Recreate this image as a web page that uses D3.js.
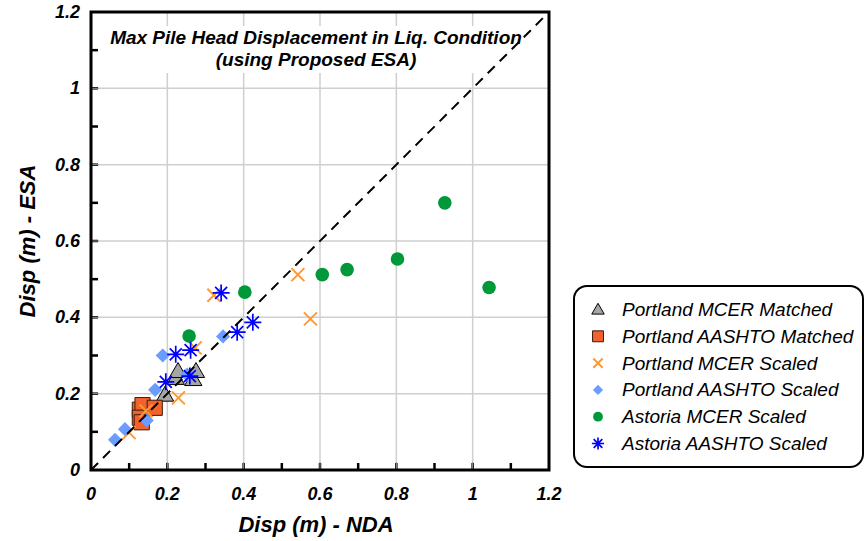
<!DOCTYPE html>
<html>
<head>
<meta charset="utf-8">
<script src="https://cdn.jsdelivr.net/npm/d3@7"></script>
<style>
  html, body { margin: 0; padding: 0; background: #fff; }
  svg { display: block; font-family: "Liberation Sans", Arial, sans-serif; }
</style>
</head>
<body>
<svg id="chart" width="868" height="541"></svg>
<script>
// Max pile head displacement: NDA (x) vs ESA (y), metres
const ticks = [0, 0.2, 0.4, 0.6, 0.8, 1, 1.2];
const tickLabels = ["0", "0.2", "0.4", "0.6", "0.8", "1", "1.2"];

const portlandMcerMatched = [
  [0.194, 0.196], [0.222, 0.240], [0.228, 0.258], [0.268, 0.237], [0.275, 0.258]
];
const portlandAashtoMatched = [
  [0.128, 0.158], [0.135, 0.170], [0.167, 0.163], [0.128, 0.137], [0.133, 0.125]
];
const portlandMcerScaled = [
  [0.100, 0.098], [0.144, 0.155], [0.229, 0.189], [0.273, 0.320],
  [0.322, 0.458], [0.542, 0.512], [0.575, 0.396]
];
const portlandAashtoScaled = [
  [0.063, 0.079], [0.089, 0.107], [0.146, 0.130], [0.168, 0.210],
  [0.188, 0.300], [0.252, 0.250], [0.346, 0.350]
];
const astoriaMcerScaled = [
  [0.257, 0.351], [0.403, 0.466], [0.606, 0.512], [0.671, 0.525],
  [0.803, 0.553], [0.927, 0.700], [1.043, 0.478]
];
const astoriaAashtoScaled = [
  [0.196, 0.231], [0.222, 0.303], [0.259, 0.246], [0.261, 0.314],
  [0.341, 0.464], [0.383, 0.361], [0.424, 0.387]
];

const seriesNames = [
  "Portland MCER Matched", "Portland AASHTO Matched", "Portland MCER Scaled",
  "Portland AASHTO Scaled", "Astoria MCER Scaled", "Astoria AASHTO Scaled"
];

const svg = d3.select("#chart");
const L = 91, R = 549, T = 12, B = 470;
const x = d3.scaleLinear().domain([0, 1.2]).range([L, R]);
const y = d3.scaleLinear().domain([0, 1.2]).range([B, T]);

// gridlines
const grid = svg.append("g");
grid.selectAll(".gx").data(ticks.slice(1, -1)).join("line")
  .attr("x1", d => x(d)).attr("x2", d => x(d)).attr("y1", T).attr("y2", B)
  .attr("stroke", "#cfcfcf").attr("stroke-width", 1.5);
grid.selectAll(".gy").data(ticks.slice(1, -1)).join("line")
  .attr("y1", d => y(d)).attr("y2", d => y(d)).attr("x1", L).attr("x2", R)
  .attr("stroke", "#cfcfcf").attr("stroke-width", 1.5);

// inward ticks every 0.1
const minor = d3.range(1, 12).map(i => i / 10);
const tickG = svg.append("g");
tickG.selectAll(".tx").data(minor).join("line")
  .attr("x1", d => x(d)).attr("x2", d => x(d)).attr("y1", B).attr("y2", B - 7)
  .attr("stroke", "#000").attr("stroke-width", 2.5);
tickG.selectAll(".ty").data(minor).join("line")
  .attr("y1", d => y(d)).attr("y2", d => y(d)).attr("x1", L).attr("x2", L + 7)
  .attr("stroke", "#000").attr("stroke-width", 2.5);
tickG.selectAll(".txg").data(ticks.slice(1, -1)).join("line")
  .attr("x1", d => x(d)).attr("x2", d => x(d)).attr("y1", B).attr("y2", B - 8)
  .attr("stroke", "#999").attr("stroke-width", 1);
tickG.selectAll(".tyg").data(ticks.slice(1, -1)).join("line")
  .attr("y1", d => y(d)).attr("y2", d => y(d)).attr("x1", L).attr("x2", L + 8)
  .attr("stroke", "#999").attr("stroke-width", 1);

// title box
svg.append("rect").attr("x", 104).attr("y", 26).attr("width", 424).attr("height", 47)
  .attr("fill", "#fff");
const title = svg.append("text").attr("text-anchor", "middle")
  .attr("font-weight", "bold").attr("font-style", "italic").attr("font-size", 19);
title.append("tspan").attr("x", 316).attr("y", 44).text("Max Pile Head Displacement in Liq. Condition");
title.append("tspan").attr("x", 316).attr("y", 66).text("(using Proposed ESA)");

// markers
const clip = svg.append("clipPath").attr("id", "plotclip");
clip.append("rect").attr("x", L).attr("y", T).attr("width", R - L).attr("height", B - T);
const plot = svg.append("g");

function starPath(r) {
  let p = "";
  for (let i = 0; i < 4; i++) {
    const a = i * Math.PI / 4;
    const dx = r * Math.cos(a), dy = r * Math.sin(a);
    p += `M${-dx},${-dy}L${dx},${dy}`;
  }
  return p;
}
function xPath(r) {
  return `M${-r},${-r}L${r},${r}M${-r},${r}L${r},${-r}`;
}

const styles = [
  { draw: (g, s) => g.append("path").attr("d", d3.symbol(d3.symbolTriangle, 130 * s * s)()).attr("transform", "translate(0,1)")
      .attr("fill", "#a6a6a6").attr("stroke", "#000").attr("stroke-width", 1) },
  { draw: (g, s) => g.append("path").attr("d", d3.symbol(d3.symbolSquare, 230 * s * s)())
      .attr("fill", "#f2622d").attr("stroke", "#3a1a0a").attr("stroke-width", 1) },
  { draw: (g, s) => g.append("path").attr("d", xPath(6.5 * s))
      .attr("fill", "none").attr("stroke", "#ff9933").attr("stroke-width", 2) },
  { draw: (g, s) => g.append("path").attr("d", d3.symbol(d3.symbolSquare, 100 * s * s)()).attr("transform", "rotate(45)")
      .attr("fill", "#6b9cff").attr("stroke", "none") },
  { draw: (g, s) => g.append("path").attr("d", d3.symbol(d3.symbolCircle, 145 * s * s)())
      .attr("fill", "#00993a").attr("stroke", "none") },
  { draw: (g, s) => g.append("path").attr("d", starPath(8.5 * s))
      .attr("fill", "none").attr("stroke", "#0000ff").attr("stroke-width", 1.7) }
];

const allSeries = [portlandMcerMatched, portlandAashtoMatched, portlandMcerScaled,
  portlandAashtoScaled, astoriaMcerScaled, astoriaAashtoScaled];

allSeries.forEach((data, i) => {
  data.forEach(d => {
    const g = plot.append("g").attr("transform", `translate(${x(d[0])},${y(d[1])})`);
    styles[i].draw(g, 1);
  });
});

// 1:1 line
svg.append("line").attr("clip-path", "url(#plotclip)")
  .attr("x1", x(0)).attr("y1", y(0)).attr("x2", x(1.2)).attr("y2", y(1.2))
  .attr("stroke", "#000").attr("stroke-width", 2).attr("stroke-dasharray", "10,7");

// frame
svg.append("rect").attr("x", L).attr("y", T).attr("width", R - L).attr("height", B - T)
  .attr("fill", "none").attr("stroke", "#000").attr("stroke-width", 3);

// tick labels
svg.selectAll(".xl").data(ticks).join("text")
  .attr("x", d => x(d)).attr("y", 500).attr("text-anchor", "middle")
  .attr("font-weight", "bold").attr("font-style", "italic").attr("font-size", 18)
  .text((d, i) => tickLabels[i]);
svg.selectAll(".yl").data(ticks).join("text")
  .attr("x", 80).attr("y", d => y(d) + 6).attr("text-anchor", "end")
  .attr("font-weight", "bold").attr("font-style", "italic").attr("font-size", 18)
  .text((d, i) => tickLabels[i]);

// axis titles
svg.append("text").attr("x", 316).attr("y", 532).attr("text-anchor", "middle")
  .attr("font-weight", "bold").attr("font-style", "italic").attr("font-size", 22)
  .text("Disp (m) - NDA");
svg.append("text").attr("transform", "translate(35,241) rotate(-90)").attr("text-anchor", "middle")
  .attr("font-weight", "bold").attr("font-style", "italic").attr("font-size", 22)
  .text("Disp (m) - ESA");

// legend
const lg = svg.append("g");
lg.append("rect").attr("x", 574).attr("y", 286).attr("width", 289).attr("height", 181)
  .attr("rx", 13).attr("fill", "#fff").attr("stroke", "#000").attr("stroke-width", 2);
seriesNames.forEach((name, i) => {
  const cy = 309.5 + i * 26.8;
  const g = lg.append("g").attr("transform", `translate(598,${cy})`);
  styles[i].draw(g, 0.72);
  lg.append("text").attr("x", 622).attr("y", cy + 6.5).attr("font-style", "italic")
    .attr("font-size", 19).text(name);
});
</script>
</body>
</html>
